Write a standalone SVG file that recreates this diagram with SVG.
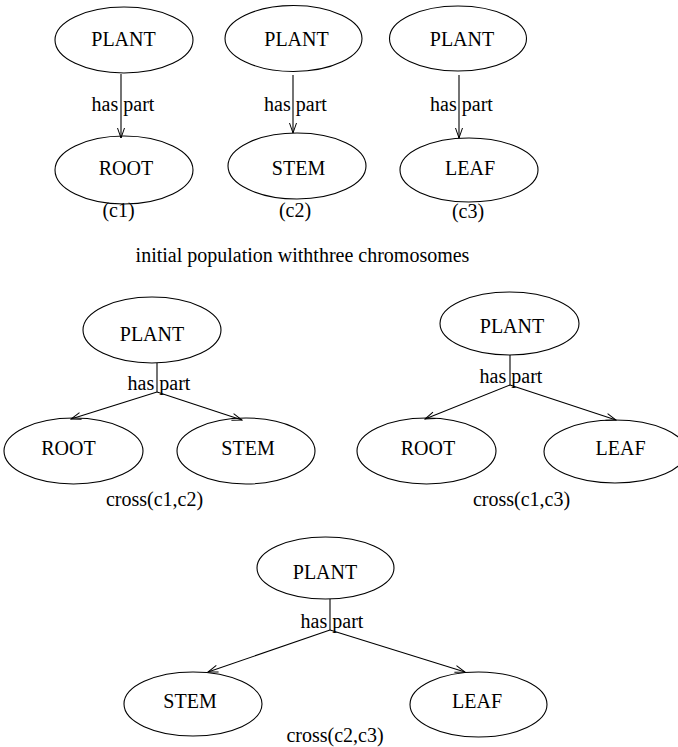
<svg xmlns="http://www.w3.org/2000/svg" width="678" height="747" viewBox="0 0 678 747">
  <style>
    .node ellipse { fill: none; stroke: #000; stroke-width: 1.1; }
    text { font-family: 'Liberation Serif', Tinos, 'DejaVu Serif', 'Noto Serif', serif; font-size: 20px; fill: #000; text-anchor: middle; }
    .edge { fill: none; stroke: #000; stroke-width: 1.1; }
    .arrow { marker-end: url(#vee); }
  </style>
  <defs>
    <marker id="vee" viewBox="-12 -5 13 10" refX="0" refY="0" markerWidth="13" markerHeight="10" markerUnits="userSpaceOnUse" orient="auto">
      <path d="M-10,-3.5 L0,0 L-10,3.5" fill="none" stroke="#000" stroke-width="1"/>
    </marker>
  </defs>

  <rect width="678" height="747" fill="#fff"/>

  <!-- connectors -->
  <g id="connectors">
    <path class="edge arrow" d="M121,74 L121,138"/>
    <path class="edge arrow" d="M293,75 L293,133"/>
    <path class="edge arrow" d="M459,75 L459,138"/>

    <path class="edge" d="M157,363 L157,392"/>
    <path class="edge arrow" d="M157,392 L71,419"/>
    <path class="edge arrow" d="M157,392 L242,420"/>

    <path class="edge" d="M510,355 L510,385"/>
    <path class="edge arrow" d="M510,385 L425,419"/>
    <path class="edge arrow" d="M510,385 L616,420"/>

    <path class="edge" d="M330,599 L330,630"/>
    <path class="edge arrow" d="M330,630 L208,672"/>
    <path class="edge arrow" d="M330,630 L465,672"/>
  </g>

  <!-- connector labels -->
  <g id="edge-labels" font-family="Liberation Serif, serif">
    <text x="123" y="111">has part</text>
    <text x="295.5" y="111">has part</text>
    <text x="461.5" y="111">has part</text>
    <text x="159" y="390">has part</text>
    <text x="511" y="383">has part</text>
    <text x="332" y="628">has part</text>
  </g>

  <!-- chromosome c1 -->
  <g id="c1-plant" class="node"><ellipse cx="124" cy="40" rx="69" ry="33"/><text x="123.5" y="46">PLANT</text></g>
  <g id="c1-root" class="node"><ellipse cx="124" cy="170" rx="69" ry="34"/><text x="126" y="175">ROOT</text></g>

  <!-- chromosome c2 -->
  <g id="c2-plant" class="node"><ellipse cx="293.5" cy="38.5" rx="68.5" ry="33"/><text x="296.5" y="46">PLANT</text></g>
  <g id="c2-stem" class="node"><ellipse cx="297" cy="166" rx="69" ry="33"/><text x="298.5" y="175">STEM</text></g>

  <!-- chromosome c3 -->
  <g id="c3-plant" class="node"><ellipse cx="458" cy="38.5" rx="68.5" ry="32.5"/><text x="462" y="46">PLANT</text></g>
  <g id="c3-leaf" class="node"><ellipse cx="469" cy="170" rx="69" ry="32"/><text x="470" y="175">LEAF</text></g>

  <g id="captions-top">
    <text x="118.5" y="217">(c1)</text>
    <text x="295" y="217">(c2)</text>
    <text x="468" y="218">(c3)</text>
    <text x="302.5" y="262">initial population withthree chromosomes</text>
  </g>

  <!-- cross(c1,c2) -->
  <g id="x12-plant" class="node"><ellipse cx="152" cy="330" rx="69" ry="33"/><text x="152" y="341">PLANT</text></g>
  <g id="x12-root" class="node"><ellipse cx="73.5" cy="451" rx="69.5" ry="33"/><text x="68.5" y="455">ROOT</text></g>
  <g id="x12-stem" class="node"><ellipse cx="246" cy="451" rx="69" ry="33"/><text x="248" y="455">STEM</text></g>
  <text x="154.5" y="506">cross(c1,c2)</text>

  <!-- cross(c1,c3) -->
  <g id="x13-plant" class="node"><ellipse cx="509.5" cy="323.5" rx="69.5" ry="31.5"/><text x="512" y="333">PLANT</text></g>
  <g id="x13-root" class="node"><ellipse cx="426.5" cy="451" rx="69.5" ry="33"/><text x="428" y="455">ROOT</text></g>
  <g id="x13-leaf" class="node"><ellipse cx="615" cy="451.5" rx="71" ry="31.5"/><text x="620.5" y="455">LEAF</text></g>
  <text x="521.5" y="506">cross(c1,c3)</text>

  <!-- cross(c2,c3) -->
  <g id="x23-plant" class="node"><ellipse cx="325.5" cy="568" rx="68.5" ry="31"/><text x="325" y="579">PLANT</text></g>
  <g id="x23-stem" class="node"><ellipse cx="193" cy="704" rx="69" ry="32"/><text x="190" y="708">STEM</text></g>
  <g id="x23-leaf" class="node"><ellipse cx="478.5" cy="704.5" rx="68.5" ry="32.5"/><text x="477" y="708">LEAF</text></g>
  <text x="335" y="742">cross(c2,c3)</text>
</svg>
